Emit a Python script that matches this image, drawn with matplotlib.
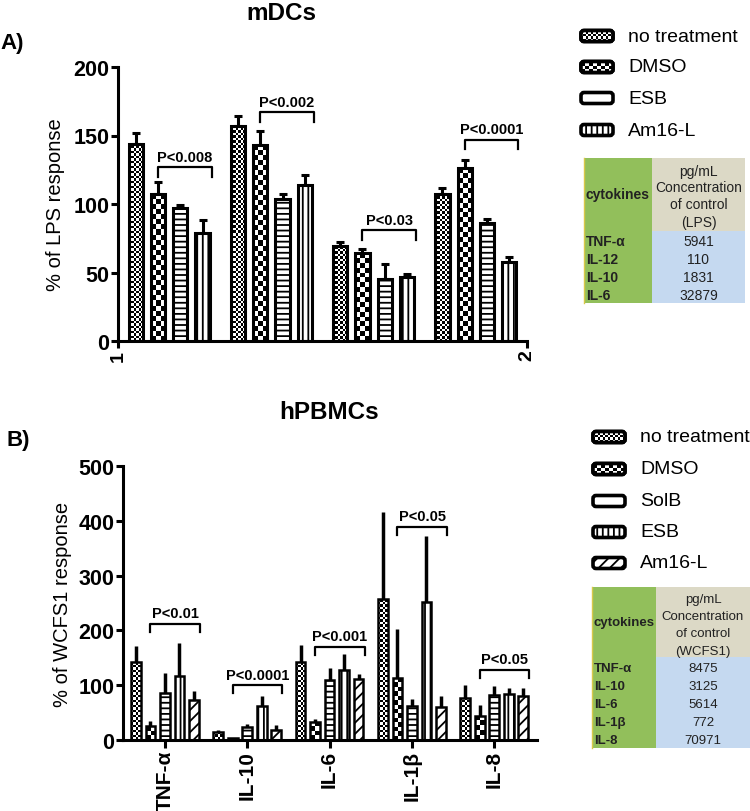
import numpy as np
import matplotlib
matplotlib.use('Agg')
import matplotlib.pyplot as plt
from matplotlib.patches import Rectangle, FancyBboxPatch

plt.rcParams['font.family'] = ['Liberation Sans', 'DejaVu Sans']
plt.rcParams['hatch.linewidth'] = 1.3

# ---- panel A data (mDCs, % of LPS response) ----
treatA = ['no treatment', 'DMSO', 'ESB', 'Am16-L']
nt_A = [144, 157, 69, 107]
nt_A_err = [8, 7, 3, 5]
dmso_A = [107, 143, 64, 126]
dmso_A_err = [9, 10, 3, 6]
esb_A = [97, 104, 45, 86]
esb_A_err = [2, 3, 11, 3]
am16_A = [79, 114, 47, 58]
am16_A_err = [9, 7, 2, 3]
pA = ['P<0.008', 'P<0.002', 'P<0.03', 'P<0.0001']
bracketA = [127, 167, 81, 147]

# ---- panel B data (hPBMCs, % of WCFS1 response) ----
catsB = ['TNF-\u03b1', 'IL-10', 'IL-6', 'IL-1\u03b2', 'IL-8']
treatB = ['no treatment', 'DMSO', 'SolB', 'ESB', 'Am16-L']
nt_B = [142, 15, 142, 257, 77]
nt_B_err = [30, 4, 31, 159, 23]
dmso_B = [25, 3, 33, 113, 44]
dmso_B_err = [9, 1, 5, 90, 20]
solb_B = [86, 24, 109, 62, 82]
solb_B_err = [37, 5, 22, 13, 17]
esb_B = [117, 62, 127, 252, 84]
esb_B_err = [60, 19, 30, 120, 10]
am16_B = [73, 19, 112, 60, 80]
am16_B_err = [16, 8, 9, 20, 14]
pB = ['P<0.01', 'P<0.0001', 'P<0.001', 'P<0.05', 'P<0.05']
bracketB = [212, 100, 170, 389, 128]

# ---- tables ----
headA = ['pg/mL', 'Concentration', 'of control', '(LPS)']
cytoA = ['TNF-\u03b1', 'IL-12', 'IL-10', 'IL-6']
concA = ['5941', '110', '1831', '32879']
headB = ['pg/mL', 'Concentration', 'of control', '(WCFS1)']
cytoB = ['TNF-\u03b1', 'IL-10', 'IL-6', 'IL-1\u03b2', 'IL-8']
concB = ['8475', '3125', '5614', '772', '70971']

W, H = 750, 812
fig = plt.figure(figsize=(7.5, 8.12), dpi=100)

axA = fig.add_axes([118 / W, 1 - 342 / H, (527 - 118) / W, (342 - 68) / H])
axB = fig.add_axes([123 / W, 1 - 741 / H, (537 - 123) / W, (741 - 467) / H])
ov = fig.add_axes([0, 0, 1, 1])
ov.set_xlim(0, W)
ov.set_ylim(H, 0)
ov.axis('off')


def checker(ax, patch, x0, x1, y0, y1, cell, z):
    p0 = ax.transData.transform((x0, y0))
    p1 = ax.transData.transform((x1, y1))
    nx = max(1, int(round(abs(p1[0] - p0[0]) / cell)))
    ny = max(1, int(round(abs(p1[1] - p0[1]) / cell)))
    arr = np.add.outer(np.arange(ny), np.arange(nx)) % 2
    im = ax.imshow(arr, cmap='gray', vmin=0, vmax=1, extent=(x0, x1, y0, y1),
                   origin='lower', interpolation='nearest', aspect='auto', zorder=z)
    im.set_clip_path(patch)


def draw_series(ax, x, vals, errs, width, lw, pat, elw, cap):
    if pat[0] == 'chk':
        bars = ax.bar(x, vals, width, color='white', edgecolor='none', zorder=2)
        for b in bars:
            checker(ax, b, b.get_x(), b.get_x() + b.get_width(), 0, b.get_height(), pat[1], 2.1)
        ax.bar(x, vals, width, fill=False, edgecolor='black', linewidth=lw, zorder=3)
    else:
        ax.bar(x, vals, width, color='white', edgecolor='black', linewidth=lw,
               hatch=pat[1], zorder=2)
    ax.errorbar(x, vals, yerr=[np.zeros(len(errs)), errs], fmt='none', ecolor='black',
                elinewidth=elw, capsize=cap, capthick=elw, zorder=1.5)


def style(ax):
    for s in ['top', 'right']:
        ax.spines[s].set_visible(False)
    for s in ['left', 'bottom']:
        ax.spines[s].set_linewidth(2.2)
    ax.tick_params(width=2.2, length=4.8, pad=1.5)


def bracket(ax, x0, x1, y, tip, label):
    ax.plot([x0, x0, x1, x1], [y - tip, y, y, y - tip], color='black', lw=1.6,
            clip_on=False, zorder=4)
    ax.annotate(label, xy=((x0 + x1) / 2, y), xytext=(0, 2.5), textcoords='offset points',
                ha='center', va='bottom', fontsize=10.5, fontweight='bold')


# ---------------- panel A ----------------
axA.set_xlim(1, 2)
axA.set_ylim(0, 200)
style(axA)
gposA = np.array([1.125, 1.375, 1.625, 1.875])
stepA = 0.0545
widthA = 0.035
seriesA = [(nt_A, nt_A_err, ('chk', 2.5)), (dmso_A, dmso_A_err, ('chk', 5)),
           (esb_A, esb_A_err, ('hatch', '---')), (am16_A, am16_A_err, ('hatch', '|||'))]
for i, (v, e, pat) in enumerate(seriesA):
    draw_series(axA, gposA + (i - 1.5) * stepA, v, e, widthA, 2.2, pat, 2.2, 3)
for g in range(4):
    x0 = gposA[g] - 0.5 * stepA
    x1 = gposA[g] + 1.5 * stepA + 0.022
    bracket(axA, x0, x1, bracketA[g], 7, pA[g])
axA.set_yticks([0, 50, 100, 150, 200], ['0', '50', '100', '150', '200'],
               fontsize=15.5, fontweight='bold')
axA.set_xticks([1, 2], ['1', '2'], rotation=90, fontsize=14, fontweight='bold')
axA.set_ylabel('% of LPS response', fontsize=14.5)
axA.yaxis.set_label_coords(-0.13, 0.5)

# ---------------- panel B ----------------
axB.set_xlim(-0.51, 4.52)
axB.set_ylim(0, 500)
style(axB)
gposB = np.arange(len(catsB))
stepB = 0.176
widthB = 0.118
seriesB = [(nt_B, nt_B_err, ('chk', 2.5)), (dmso_B, dmso_B_err, ('chk', 4.5)),
           (solb_B, solb_B_err, ('hatch', '---')), (esb_B, esb_B_err, ('hatch', '|||')),
           (am16_B, am16_B_err, ('hatch', '///'))]
for i, (v, e, pat) in enumerate(seriesB):
    draw_series(axB, gposB + (i - 2) * stepB, v, e, widthB, 1.8, pat, 2.5, 0)
for g in range(5):
    x0 = gposB[g] - stepB
    x1 = gposB[g] + 2 * stepB + 0.075
    bracket(axB, x0, x1, bracketB[g], 15, pB[g])
axB.set_yticks([0, 100, 200, 300, 400, 500], ['0', '100', '200', '300', '400', '500'],
               fontsize=15.5, fontweight='bold')
axB.set_xticks(gposB, catsB, rotation=90, fontsize=15, fontweight='bold')
axB.tick_params(axis='x', length=5.5)
axB.set_ylabel('% of WCFS1 response', fontsize=14.5)
axB.yaxis.set_label_coords(-0.123, 0.5)

# ---------------- titles ----------------
fig.text(281 / W, 1 - 13 / H, 'mDCs', ha='center', va='center', fontsize=17.5, fontweight='bold')
fig.text(329 / W, 1 - 413 / H, 'hPBMCs', ha='center', va='center', fontsize=17.5, fontweight='bold')
fig.text(0 / W, 1 - 43 / H, 'A)', ha='left', va='center', fontsize=16, fontweight='bold')
fig.text(6 / W, 1 - 441 / H, 'B)', ha='left', va='center', fontsize=16, fontweight='bold')


# ---------------- legends ----------------
def legend(ys, x, names, pats):
    for y, name, pat in zip(ys, names, pats):
        box = FancyBboxPatch((x, y - 5.5), 32, 11, boxstyle='round,pad=0,rounding_size=3',
                             facecolor='white', edgecolor='black', linewidth=2.6,
                             hatch=pat[1] if pat[0] == 'hatch' else None, zorder=3)
        ov.add_patch(box)
        if pat[0] == 'chk':
            checker(ov, box, x, x + 32, y - 5.5, y + 5.5, pat[1], 3.5)
            ov.add_patch(FancyBboxPatch((x, y - 5.5), 32, 11,
                                        boxstyle='round,pad=0,rounding_size=3',
                                        fill=False, edgecolor='black', linewidth=2.6, zorder=4))
        ov.text(x + 47, y, name, va='center', ha='left', fontsize=14)


legend([37, 68, 99, 131], 581, treatA,
       [('chk', 2.5), ('chk', 4), ('hatch', None), ('hatch', '|||')])
legend([438, 470, 502, 533, 564], 593, treatB,
       [('chk', 2.5), ('chk', 4), ('hatch', None), ('hatch', '|||'), ('hatch', '///')])


# ---------------- tables ----------------
def table(x0, xm, x1, top, hbot, bot, head, heady, cytos, concs, rowy, fs):
    ov.add_patch(Rectangle((x0, top), xm - x0, bot - top, facecolor='#92bf5b', edgecolor='none'))
    ov.add_patch(Rectangle((xm, top), x1 - xm, hbot - top, facecolor='#dcd9c6', edgecolor='none'))
    ov.add_patch(Rectangle((xm, hbot), x1 - xm, bot - hbot, facecolor='#c5d9f0', edgecolor='none'))
    ov.plot([x0, x0], [top, bot], color='#d9c84a', lw=1)
    cx = (xm + x1) / 2
    for t, y in zip(head, heady):
        ov.text(cx, y, t, ha='center', va='center', fontsize=fs, color='#222222')
    ov.text((x0 + xm) / 2, (top + hbot) / 2, 'cytokines', ha='center', va='center',
            fontsize=fs, fontweight='bold', color='#222222')
    for c, v, y in zip(cytos, concs, rowy):
        ov.text(x0 + 2, y, c, ha='left', va='center', fontsize=fs, fontweight='bold',
                color='#222222')
        ov.text(cx, y, v, ha='center', va='center', fontsize=fs, color='#222222')


table(584, 652, 745, 159, 232, 304, headA, [172, 188, 205, 223], cytoA, concA,
      [242, 260, 278, 296], 10)
table(592, 656, 750, 588, 658, 749, headB, [600, 617, 634, 652], cytoB, concB,
      [669, 687, 705, 723, 741], 9.5)

fig.savefig('out.png', dpi=100)
